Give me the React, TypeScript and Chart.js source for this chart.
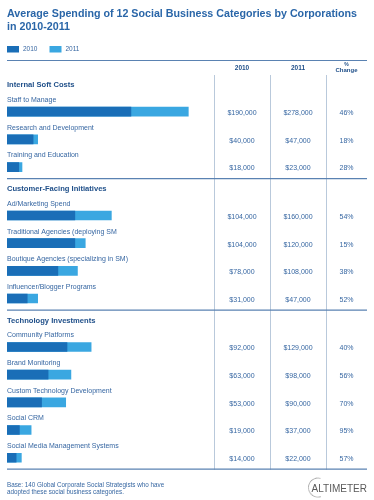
import React, { useEffect, useRef } from "react";
import { Chart, registerables } from "chart.js";

Chart.register(...registerables);

const TITLE_LINES = ["Average Spending of 12 Social Business Categories by Corporations", "in 2010-2011"];
const SERIES_NAMES = ["2010", "2011"];
const COLUMN_HEADERS = ["2010", "2011", "%\nChange"];
const SECTIONS = ["Internal Soft Costs", "Customer-Facing Initiatives", "Technology Investments"];
const CATEGORIES = [
  "Staff to Manage",
  "Research and Development",
  "Training and Education",
  "Ad/Marketing Spend",
  "Traditional Agencies (deploying SM",
  "Boutique Agencies (specializing in SM)",
  "Influencer/Blogger Programs",
  "Community Platforms",
  "Brand Monitoring",
  "Custom Technology Development",
  "Social CRM",
  "Social Media Management Systems",
];
const SECTION_OF = [0, 0, 0, 1, 1, 1, 1, 2, 2, 2, 2, 2];
const VALUES_2010 = [190000, 40000, 18000, 104000, 104000, 78000, 31000, 92000, 63000, 53000, 19000, 14000];
const VALUES_2011 = [278000, 47000, 23000, 160000, 120000, 108000, 47000, 129000, 98000, 90000, 37000, 22000];
const PCT_CHANGE = ["46%", "18%", "28%", "54%", "15%", "38%", "52%", "40%", "56%", "70%", "95%", "57%"];
const FOOTNOTE = ["Base: 140 Global Corporate Social Strategists who have", "adopted these social business categories."];
const LOGO = "ALTIMETER";

const DARK = "#1a6eb7";
const LIGHT = "#3aa7e1";
const TITLE_C = "#2a66a8";
const HEAD_C = "#1f4f89";
const TEXT_C = "#3767a2";
const LINE_C = "#5a82b2";
const VLINE_C = "#b9c9db";
const FONT = '"Liberation Sans", Arial, Helvetica, sans-serif';

const SECTION_GAP = 0.75;
const positions = CATEGORIES.map((_, i) => i + SECTION_OF[i] * SECTION_GAP);

const fmt = (v: number) => "$" + v.toLocaleString("en-US");

const W = 374;
const H = 500;
const LEFT = 7;
const RIGHT = 367;
const COL_X = [214, 270, 326];

function fitText(ctx: CanvasRenderingContext2D, text: string, x: number, y: number, width: number) {
  const m = ctx.measureText(text).width;
  const sx = Math.min(1, width / m);
  ctx.save();
  ctx.translate(x, y);
  ctx.scale(sx, 1);
  ctx.fillText(text, 0, 0);
  ctx.restore();
  return sx;
}

const tablePlugin = {
  id: "tablePlugin",
  afterDraw(chart: any) {
    const ctx: CanvasRenderingContext2D = chart.ctx;
    const yS = chart.scales.y;
    ctx.save();
    ctx.textBaseline = "alphabetic";
    // title
    ctx.fillStyle = TITLE_C;
    ctx.font = `bold 11.5px ${FONT}`;
    ctx.textAlign = "left";
    const sx = fitText(ctx, TITLE_LINES[0], LEFT, 16.7, 350);
    ctx.save();
    ctx.translate(LEFT, 30);
    ctx.scale(sx, 1);
    ctx.fillText(TITLE_LINES[1], 0, 0);
    ctx.restore();
    // legend
    const legendX = [LEFT, 49.5];
    const colors = [DARK, LIGHT];
    SERIES_NAMES.forEach((n, i) => {
      ctx.fillStyle = colors[i];
      ctx.fillRect(legendX[i], 46, 12, 6.5);
      ctx.fillStyle = TEXT_C;
      ctx.font = `6.5px ${FONT}`;
      ctx.textBaseline = "middle";
      ctx.fillText(n, legendX[i] + 16, 49.5);
    });
    // top line
    ctx.strokeStyle = LINE_C;
    ctx.lineWidth = 1.2;
    ctx.beginPath();
    ctx.moveTo(LEFT, 60.5);
    ctx.lineTo(RIGHT, 60.5);
    ctx.stroke();
    // headers
    const centers = [(COL_X[0] + COL_X[1]) / 2, (COL_X[1] + COL_X[2]) / 2, (COL_X[2] + RIGHT) / 2];
    ctx.fillStyle = HEAD_C;
    ctx.textAlign = "center";
    ctx.textBaseline = "middle";
    COLUMN_HEADERS.forEach((h, i) => {
      const parts = h.split("\n");
      if (parts.length === 1) {
        ctx.font = `bold 6.5px ${FONT}`;
        ctx.fillText(parts[0], centers[i], 68.5);
      } else {
        ctx.font = `bold 5px ${FONT}`;
        ctx.fillText(parts[0], centers[i], 64.5);
        ctx.font = `bold 6px ${FONT}`;
        ctx.fillText(parts[1], centers[i], 70.5);
      }
    });
    // rows
    const rowY = positions.map((p) => yS.getPixelForValue(p));
    const lastY = rowY[rowY.length - 1];
    // vertical lines
    ctx.strokeStyle = VLINE_C;
    ctx.lineWidth = 1;
    COL_X.forEach((x) => {
      ctx.beginPath();
      ctx.moveTo(x + 0.5, 75);
      ctx.lineTo(x + 0.5, lastY + 12);
      ctx.stroke();
    });
    // section headers and separators
    SECTIONS.forEach((s, si) => {
      const idx = SECTION_OF.indexOf(si);
      const lastIdx = SECTION_OF.lastIndexOf(si);
      ctx.fillStyle = HEAD_C;
      ctx.font = `bold 7.6px ${FONT}`;
      ctx.textAlign = "left";
      ctx.textBaseline = "middle";
      ctx.fillText(s, LEFT, rowY[idx] - 26.5);
      ctx.strokeStyle = LINE_C;
      ctx.lineWidth = 1.2;
      ctx.beginPath();
      ctx.moveTo(LEFT, rowY[lastIdx] + 11.5);
      ctx.lineTo(RIGHT, rowY[lastIdx] + 11.5);
      ctx.stroke();
    });
    // labels and values
    CATEGORIES.forEach((c, i) => {
      const y = rowY[i];
      ctx.fillStyle = TEXT_C;
      ctx.font = `7px ${FONT}`;
      ctx.textAlign = "left";
      ctx.fillText(c, LEFT, y - 11.5);
      ctx.textAlign = "center";
      ctx.font = `7px ${FONT}`;
      ctx.fillText(fmt(VALUES_2010[i]), centers[0], y + 1.5);
      ctx.fillText(fmt(VALUES_2011[i]), centers[1], y + 1.5);
      ctx.fillText(PCT_CHANGE[i], centers[2], y + 1.5);
    });
    // footnote
    ctx.fillStyle = TEXT_C;
    ctx.font = `6.3px ${FONT}`;
    ctx.textAlign = "left";
    ctx.fillText(FOOTNOTE[0], LEFT, 485);
    ctx.fillText(FOOTNOTE[1], LEFT, 492.5);
    // logo
    ctx.fillStyle = "#5a5a5a";
    ctx.font = `10px ${FONT}`;
    ctx.textAlign = "right";
    ctx.textBaseline = "middle";
    ctx.fillText(LOGO, RIGHT, 489);
    ctx.fillStyle = "#a0a0a0";
    const cx = 318, cy = 487.5, r = 9.5;
    for (let a = 0.42 * Math.PI; a <= 1.6 * Math.PI; a += 0.12) {
      const px = cx + r * Math.cos(a);
      const py = cy + r * Math.sin(a);
      ctx.beginPath();
      ctx.arc(px, py, 0.55, 0, Math.PI * 2);
      ctx.fill();
    }
    ctx.restore();
  },
};

export default function App() {
  const ref = useRef<HTMLCanvasElement | null>(null);
  useEffect(() => {
    document.body.style.margin = "0";
    document.body.style.background = "#ffffff";
    const canvas = ref.current!;
    const xMax = 320000;
    const plotW = 208.7;
    const chart = new Chart(canvas, {
      type: "bar",
      data: {
        datasets: [
          {
            label: SERIES_NAMES[0],
            data: VALUES_2010.map((v, i) => ({ x: v, y: positions[i] })),
            backgroundColor: DARK,
            grouped: false,
            order: 0,
            barThickness: 9,
          } as any,
          {
            label: SERIES_NAMES[1],
            data: VALUES_2011.map((v, i) => ({ x: v, y: positions[i] })),
            backgroundColor: LIGHT,
            grouped: false,
            order: 1,
            barThickness: 9,
          } as any,
        ],
      },
      options: {
        indexAxis: "y",
        responsive: false,
        animation: false,
        devicePixelRatio: 1,
        layout: { padding: { left: LEFT, right: W - LEFT - plotW, top: 84, bottom: 14.6 } },
        scales: {
          x: { type: "linear", min: 0, max: xMax, display: false, offset: false },
          y: { type: "linear", reverse: true, min: -1, max: 13.5, display: false, offset: false },
        },
        plugins: { legend: { display: false }, tooltip: { enabled: false } },
      } as any,
      plugins: [tablePlugin],
    });
    return () => chart.destroy();
  }, []);
  return (
    <div style={{ width: W, height: H }}>
      <canvas ref={ref} width={W} height={H} style={{ display: "block" }} />
    </div>
  );
}
